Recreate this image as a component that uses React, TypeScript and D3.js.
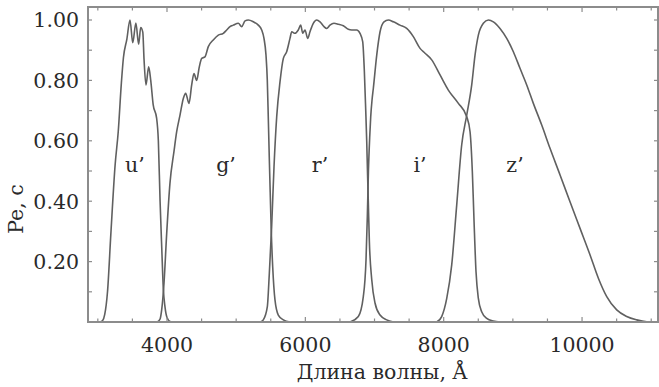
import * as d3 from "d3";
import { useEffect, useRef } from "react";

// filter transmission curves: [wavelength Å, value]
const uBand: [number, number][] = [
  [3030, 0], [3070, 0.005], [3100, 0.025], [3140, 0.1], [3188, 0.29], [3250, 0.52], [3295, 0.63],
  [3340, 0.79], [3370, 0.875], [3420, 0.937], [3465, 1.0], [3505, 0.925], [3550, 0.99], [3590, 0.92],
  [3620, 0.975], [3650, 0.96], [3668, 0.87], [3696, 0.785], [3735, 0.845], [3765, 0.8], [3800, 0.72],
  [3850, 0.675], [3875, 0.6], [3900, 0.4], [3925, 0.24], [3947, 0.11], [3971, 0.05], [4000, 0.015],
  [4043, 0.002], [4080, 0],
];
const gBand: [number, number][] = [
  [3860, 0], [3900, 0.01], [3923, 0.04], [3957, 0.13], [3996, 0.295], [4043, 0.46], [4101, 0.565],
  [4140, 0.63], [4188, 0.685], [4236, 0.74], [4270, 0.757], [4318, 0.724], [4357, 0.785], [4390, 0.823],
  [4429, 0.8], [4467, 0.845], [4502, 0.873], [4549, 0.878], [4597, 0.912], [4669, 0.934], [4742, 0.95],
  [4814, 0.956], [4863, 0.967], [4911, 0.978], [4959, 0.983], [5031, 0.989], [5080, 0.978], [5128, 0.997],
  [5176, 1.0], [5248, 0.994], [5320, 0.983], [5369, 0.967], [5402, 0.939], [5431, 0.884], [5450, 0.8],
  [5464, 0.68], [5478, 0.55], [5492, 0.43], [5506, 0.31], [5528, 0.183], [5561, 0.073], [5609, 0.023],
  [5682, 0.007], [5780, 0],
];
const rBand: [number, number][] = [
  [5350, 0], [5392, 0.007], [5450, 0.05], [5479, 0.16], [5513, 0.316], [5547, 0.514], [5586, 0.68],
  [5634, 0.796], [5682, 0.873], [5730, 0.895], [5778, 0.939], [5803, 0.961], [5850, 0.956], [5898, 0.967],
  [5933, 0.983], [5962, 0.956], [5995, 0.967], [6034, 0.939], [6067, 0.961], [6115, 0.989], [6164, 1.0],
  [6212, 0.994], [6270, 0.978], [6308, 0.972], [6356, 0.983], [6414, 0.989], [6477, 0.986], [6549, 0.981],
  [6621, 0.969], [6670, 0.967], [6742, 0.967], [6790, 0.956], [6829, 0.928], [6853, 0.83], [6873, 0.7],
  [6887, 0.6], [6898, 0.5], [6910, 0.4], [6925, 0.27], [6960, 0.14], [7007, 0.063], [7080, 0.023],
  [7176, 0.007], [7272, 0],
];
const iBand: [number, number][] = [
  [6646, 0], [6766, 0.018], [6838, 0.084], [6877, 0.205], [6896, 0.349], [6912, 0.5], [6930, 0.61],
  [6945, 0.68], [6964, 0.735], [6983, 0.774], [7032, 0.884], [7080, 0.961], [7137, 0.994], [7200, 1.0],
  [7272, 0.994], [7368, 0.983], [7465, 0.972], [7561, 0.945], [7658, 0.906], [7730, 0.89], [7827, 0.868],
  [7947, 0.818], [8067, 0.768], [8212, 0.724], [8333, 0.68], [8381, 0.63], [8414, 0.498], [8439, 0.332],
  [8467, 0.167], [8501, 0.078], [8549, 0.034], [8622, 0.012], [8718, 0.003], [8814, 0],
];
const zBand: [number, number][] = [
  [7899, 0], [7971, 0.018], [8044, 0.078], [8116, 0.189], [8188, 0.387], [8260, 0.586], [8333, 0.685],
  [8405, 0.785], [8453, 0.884], [8501, 0.95], [8573, 0.989], [8646, 1.0], [8718, 0.994], [8814, 0.972],
  [8911, 0.939], [9007, 0.895], [9103, 0.84], [9200, 0.785], [9296, 0.724], [9417, 0.652], [9537, 0.575],
  [9682, 0.487], [9826, 0.398], [9971, 0.31], [10116, 0.222], [10236, 0.145], [10357, 0.084],
  [10501, 0.04], [10646, 0.018], [10790, 0.007], [10935, 0.001], [11098, 0],
];

const bandNames = ["u’", "g’", "r’", "i’", "z’"];
const labelWavelengths = [3537, 4853, 6212, 7658, 9031];
const xTickLabels = [4000, 6000, 8000, 10000];
const yTickLabels = [0.2, 0.4, 0.6, 0.8, 1.0];

export default function App() {
  const ref = useRef<SVGSVGElement>(null);

  useEffect(() => {
    if (!ref.current) return;
    document.body.style.margin = "0";
    const el = ref.current;
    d3.select(el).selectAll("*").remove();

    const W = 659;
    const H = 387;
    const left = 88, right = 658, top = 7, bottom = 322;
    const font = "'DejaVu Serif', serif";
    const fs = 20.5;
    const ink = "#2a2a2a";
    const frame = "#8c8c8c";

    const x = d3.scaleLinear().domain([2858, 11098]).range([left, right]);
    const y = d3.scaleLinear().domain([0, 1]).range([bottom, 20]);

    const svg = d3.select(el).attr("width", W).attr("height", H).attr("viewBox", `0 0 ${W} ${H}`);
    svg.append("rect").attr("width", W).attr("height", H).attr("fill", "#fff");

    const clip = svg.append("clipPath").attr("id", "plot-clip");
    clip.append("rect").attr("x", left).attr("y", top).attr("width", right - left).attr("height", bottom - top);

    // curves
    const line = d3
      .line<[number, number]>()
      .x(d => x(d[0]))
      .y(d => y(d[1]))
      .curve(d3.curveMonotoneX);

    const curves = svg.append("g").attr("clip-path", "url(#plot-clip)");
    [uBand, gBand, rBand, iBand, zBand].forEach(band => {
      curves
        .append("path")
        .attr("d", line(band) as string)
        .attr("fill", "none")
        .attr("stroke", "#606060")
        .attr("stroke-width", 1.6)
        .attr("stroke-linejoin", "round");
    });

    // band labels
    bandNames.forEach((name, i) => {
      svg
        .append("text")
        .attr("x", x(labelWavelengths[i]))
        .attr("y", y(0.497))
        .attr("text-anchor", "middle")
        .attr("font-family", font)
        .attr("font-size", fs)
        .attr("fill", ink)
        .text(name);
    });

    // frame
    svg
      .append("rect")
      .attr("x", left)
      .attr("y", top)
      .attr("width", right - left)
      .attr("height", bottom - top)
      .attr("fill", "none")
      .attr("stroke", frame)
      .attr("stroke-width", 2);

    // ticks (inward, on all four sides)
    const ticks = svg.append("g").attr("stroke", frame).attr("stroke-width", 1.2);
    d3.range(3000, 11001, 500).forEach(v => {
      const len = v % 2000 === 0 ? 5 : 3.5;
      ticks.append("line").attr("x1", x(v)).attr("x2", x(v)).attr("y1", bottom).attr("y2", bottom - len);
      ticks.append("line").attr("x1", x(v)).attr("x2", x(v)).attr("y1", top).attr("y2", top + len);
    });
    d3.range(1, 11).forEach(k => {
      const v = k / 10;
      ticks.append("line").attr("x1", left).attr("x2", left + 4).attr("y1", y(v)).attr("y2", y(v));
      ticks.append("line").attr("x1", right).attr("x2", right - 4).attr("y1", y(v)).attr("y2", y(v));
    });

    // tick labels
    xTickLabels.forEach(v => {
      svg
        .append("text")
        .attr("x", x(v))
        .attr("y", 352)
        .attr("text-anchor", "middle")
        .attr("font-family", font)
        .attr("font-size", fs)
        .attr("fill", ink)
        .text(d3.format("d")(v));
    });
    yTickLabels.forEach(v => {
      svg
        .append("text")
        .attr("x", 79)
        .attr("y", y(v))
        .attr("dy", "0.36em")
        .attr("text-anchor", "end")
        .attr("font-family", font)
        .attr("font-size", fs)
        .attr("fill", ink)
        .text(d3.format(".2f")(v));
    });

    // axis titles
    svg
      .append("text")
      .attr("x", 382)
      .attr("y", 379)
      .attr("text-anchor", "middle")
      .attr("font-family", font)
      .attr("font-size", fs)
      .attr("fill", ink)
      .text("Длина волны, Å");

    svg
      .append("text")
      .attr("transform", "translate(23,209) rotate(-90)")
      .attr("text-anchor", "middle")
      .attr("font-family", font)
      .attr("font-size", fs)
      .attr("fill", ink)
      .text("Pe, c");
  }, []);

  return <svg ref={ref} style={{ display: "block" }} />;
}
